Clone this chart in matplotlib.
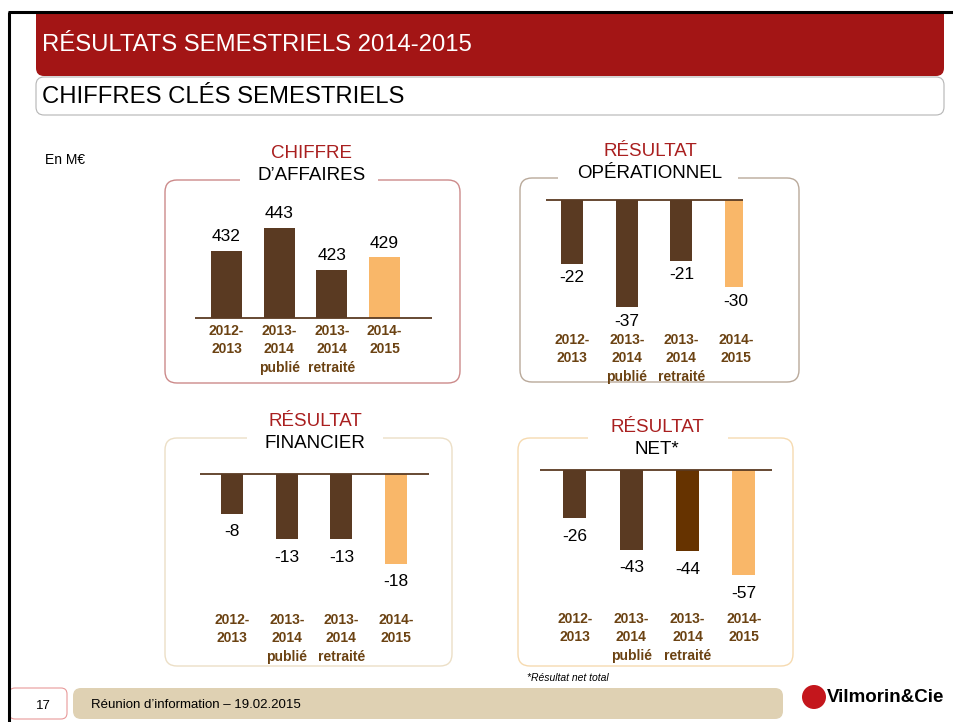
import matplotlib
matplotlib.use("Agg")
import matplotlib.pyplot as plt
from matplotlib.patches import FancyBboxPatch, Rectangle, Circle
import numpy as np

plt.rcParams["font.family"] = ["Liberation Sans", "DejaVu Sans"]

W, H = 954, 722

# data
categories = ["2012-\n2013", "2013-\n2014\npublié", "2013-\n2014\nretraité", "2014-\n2015"]
chiffre_affaires = [432, 443, 423, 429]
resultat_operationnel = [-22, -37, -21, -30]
resultat_financier = [-8, -13, -13, -18]
resultat_net = [-26, -43, -44, -57]

DARK = "#5a3a22"
ORANGE = "#f9b769"
DEEP = "#663300"
RED_TXT = "#a91f1f"
CAT = "#6b4212"

fig = plt.figure(figsize=(W / 100, H / 100), dpi=100)
bg = fig.add_axes([0, 0, 1, 1])
bg.set_xlim(0, W)
bg.set_ylim(H, 0)
bg.axis("off")


def px_axes(x0, x1, top, bot):
    return fig.add_axes([x0 / W, 1 - bot / H, (x1 - x0) / W, (bot - top) / H])


def draw_panel(values, colors, titles, box, edge, gap, title_x, title_y,
               c0, sp, bar_w, line, base_px, ppu, base_val, label_off, cat_top):
    x0, y0, x1, y1 = box
    bg.add_patch(FancyBboxPatch((x0, y0), x1 - x0, y1 - y0,
                                boxstyle="round,pad=0,rounding_size=12",
                                fc="none", ec=edge, lw=1.0))
    bg.add_patch(Rectangle((gap[0], y0 - 3), gap[1] - gap[0], 6,
                           fc="white", ec="none", zorder=3))
    bg.text(title_x, title_y[0], titles[0], color=RED_TXT, fontsize=13.5,
            ha="center", va="center", zorder=4)
    bg.text(title_x, title_y[1], titles[1], color="black", fontsize=13.5,
            ha="center", va="center", zorder=4)

    lx0, lx1 = line
    top, bot = base_px - 130, base_px + 130
    ax = px_axes(lx0, lx1, top, bot)
    ax.set_xlim((lx0 - c0) / sp, (lx1 - c0) / sp)
    ax.set_ylim(base_val - (bot - base_px) / ppu, base_val + (base_px - top) / ppu)
    ax.axis("off")

    idx = np.arange(len(values))
    vals = np.array(values, dtype=float)
    ax.bar(idx, vals - base_val, bottom=base_val, width=bar_w / sp, color=colors)
    ax.axhline(base_val, color=DARK, lw=1.3, zorder=3)
    for i, v in zip(idx, vals):
        d = 1 if v > base_val else -1
        ax.annotate(f"{v:.0f}", (i, v), xytext=(0, d * label_off),
                    textcoords="offset pixels", ha="center", va="center",
                    fontsize=12.5, annotation_clip=False)
    for i, lab in zip(idx, categories):
        ax.annotate(lab, (i, base_val), xytext=(0, -(cat_top - base_px)),
                    textcoords="offset pixels", ha="center", va="top",
                    fontsize=10, fontweight="bold", color=CAT,
                    linespacing=1.4, annotation_clip=False)


# slide header
bg.add_patch(FancyBboxPatch((36, 0), 908, 76, boxstyle="round,pad=0,rounding_size=8",
                            fc="#a31515", ec="none"))
bg.add_patch(Rectangle((30, 0), 924, 11.5, fc="white", ec="none"))
bg.text(42, 45, "RÉSULTATS SEMESTRIELS 2014-2015", color="white", fontsize=17.2,
        ha="left", va="center")
bg.add_patch(FancyBboxPatch((36, 77), 908, 38, boxstyle="round,pad=0,rounding_size=8",
                            fc="white", ec="#b5b5b5", lw=0.8))
bg.text(42, 97, "CHIFFRES CLÉS SEMESTRIELS", color="black", fontsize=17.2,
        ha="left", va="center")
bg.plot([8, 954], [12, 12], color="black", lw=2.2, solid_capstyle="butt", zorder=5)
bg.plot([9, 9], [12, 722], color="black", lw=2.2, solid_capstyle="butt", zorder=5)

bg.text(45, 160, "En M€", fontsize=10, ha="left", va="center")

draw_panel(chiffre_affaires, [DARK, DARK, DARK, ORANGE], ("CHIFFRE", "D’AFFAIRES"),
           (165, 180, 460, 383), "#cc8a8a", (240, 378), 312, (153, 176),
           226.5, 52.7, 31, (195, 432), 318, 2.1, 400, 14, 324)
draw_panel(resultat_operationnel, [DARK, DARK, DARK, ORANGE], ("RÉSULTAT", "OPÉRATIONNEL"),
           (520, 178, 799, 382), "#b9a99a", (558, 738), 650, (152, 173),
           572, 54.7, 22, (546, 743), 200, 2.9, 0, 14, 333)
draw_panel(resultat_financier, [DARK, DARK, DARK, ORANGE], ("RÉSULTAT", "FINANCIER"),
           (165, 438, 452, 666), "#ecdfc6", (247, 383), 315, (422, 443),
           232, 54.7, 22, (200, 429), 474, 5.0, 0, 18, 613)
draw_panel(resultat_net, [DARK, DARK, DEEP, ORANGE], ("RÉSULTAT", "NET*"),
           (518, 438, 793, 666), "#f6dab0", (588, 728), 657, (428, 450),
           575, 56.3, 23, (540, 772), 470, 1.85, 0, 18, 612)

bg.text(527, 678, "*Résultat net total", fontsize=7.5, style="italic",
        ha="left", va="center")

# footer
bg.add_patch(FancyBboxPatch((9, 688), 58, 31, boxstyle="round,pad=0,rounding_size=6",
                            fc="white", ec="#e89a9a", lw=0.8))
bg.text(43, 706, "17", fontsize=9.5, ha="center", va="center")
bg.add_patch(FancyBboxPatch((73, 688), 710, 31, boxstyle="round,pad=0,rounding_size=8",
                            fc="#dfd1b3", ec="none"))
bg.text(91, 705, "Réunion d’information – 19.02.2015", fontsize=9.5,
        ha="left", va="center")
bg.add_patch(Circle((814, 697), 12, fc="#c4161c", ec="none"))
bg.text(827, 698, "Vilmorin&Cie", fontsize=13.5, fontweight="bold",
        ha="left", va="center")

fig.savefig("out.png", dpi=100)
